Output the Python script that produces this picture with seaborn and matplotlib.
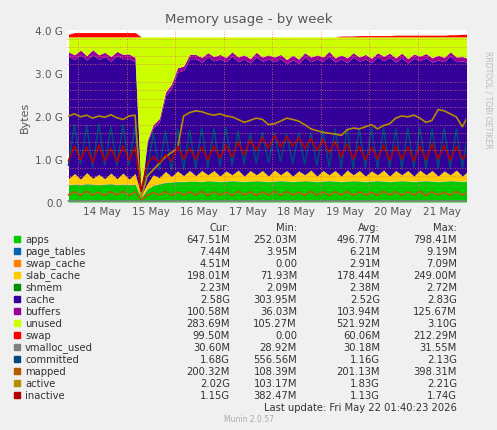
import numpy as np
import matplotlib
matplotlib.use("Agg")
import matplotlib.pyplot as plt
import seaborn as sns

sns.set_theme(style="white")
plt.rcParams['font.family'] = ['DejaVu Sans']

# time in days since 13 May 00:00, step 0.125 day
t0, step, n = 0.8, 0.125, 67
days = t0 + step * np.arange(n)

apps = [.40,.41,.40,.42,.41,.40,.41,.42,.40,.41,.40,.41,
        .10,
        .30,.38,.42,.45,.46,.47,.47,.48,
        .48,.47,.49,.48,.47,.48,.49,.48,.47,.48,.49,.48,.47,.48,.49,.48,.47,.48,.49,.48,.47,.48,.49,.48,
        .47,.48,.49,.48,.47,.48,.49,.48,.47,.48,.49,.48,.47,.48,.49,.48,.47,.48,.49,.48,.47,.48]
slab_cache = [.13,.24,.12,.25,.13,.23,.12,.24,.13,.25,.12,.24,
              .05,
              .12,.24,.13,.25,.12,.24,.13,.24,
              .12,.25,.13,.24,.12,.23,.13,.25,.12,.24,.13,.24,.12,.25,.13,.24,.12,.23,.13,.25,.12,.24,.13,.24,
              .12,.25,.13,.24,.12,.23,.13,.25,.12,.24,.13,.24,.12,.25,.13,.24,.12,.23,.13,.25,.12,.24]
buffers = [.10,.11,.10,.10,.11,.10,.10,.11,.10,.10,.11,.10,
           .03,
           .05,.07,.08,.09,.10,.10,.10,.10,
           .10,.11,.10,.10,.11,.10,.10,.11,.10,.10,.11,.10,.10,.11,.10,.10,.11,.10,.10,.11,.10,.10,.11,.10,
           .10,.11,.10,.10,.11,.10,.10,.11,.10,.10,.11,.10,.10,.11,.10,.10,.11,.10,.10,.11,.10,.10]
cache = [2.85,2.65,2.90,2.62,2.88,2.68,2.84,2.60,2.86,2.66,2.80,2.60,
         .05,
         0.95,1.10,1.30,1.75,2.05,2.30,2.45,2.60,
         2.72,2.52,2.74,2.55,2.72,2.54,2.76,2.52,2.72,2.50,2.74,2.54,2.72,2.52,2.70,2.48,2.70,2.50,2.74,2.52,2.72,2.54,2.76,2.52,
         2.72,2.50,2.74,2.54,2.72,2.52,2.74,2.54,2.76,2.52,2.72,2.50,2.74,2.54,2.72,2.52,2.70,2.54,2.76,2.52,2.68,2.50]
page_tables = 0.007
swap_cache = 0.004
shmem = 0.002
mem_total = 3.84
swap = [.06,.10,.10,.10,.10,.10,.10,.10,.10,.10,.10,.10,
        0,
        0,0,0,0,0,0,0,0,
        0,0,0,0,0,0,0,0,0,0,0,0,0,0,0,0,0,0,0,0,0,0,0,0,
        .02,.02,.02,.03,.03,.03,.03,.03,.03,.04,.04,.04,.04,.04,.04,.04,.04,.04,.05,.05,.06,.06]

active = [2.00,2.05,1.98,2.02,1.95,2.00,1.97,2.03,1.96,1.92,2.00,2.02,
          .10,
          .60,.75,.90,1.05,1.15,1.25,2.00,2.08,
          2.12,2.10,2.05,2.02,2.05,2.00,1.98,1.92,1.85,1.90,1.95,1.92,1.80,1.82,1.88,1.95,1.92,1.88,1.80,1.70,1.66,1.62,1.60,1.58,
          1.55,1.68,1.72,1.70,1.75,1.80,1.70,1.78,1.82,1.95,2.00,1.98,2.02,1.95,1.85,1.90,2.15,2.12,2.05,1.98,1.75,2.02]
inactive = [0.95,1.30,0.98,1.28,0.92,1.32,0.96,1.25,0.94,1.30,0.97,1.27,
            .25,
            0.90,1.05,0.92,1.10,0.95,1.30,1.00,1.25,
            1.00,1.28,0.98,1.30,1.02,1.32,1.05,1.40,1.10,1.45,1.20,1.50,1.25,1.55,1.28,1.52,1.30,1.50,1.25,1.48,1.20,1.45,1.15,1.40,
            1.05,1.35,1.00,1.30,0.98,1.28,1.00,1.32,0.97,1.30,1.00,1.28,0.95,1.30,0.98,1.35,1.00,1.32,0.97,1.30,1.00,1.15]
committed = [0.85,1.80,0.88,1.78,0.82,1.82,0.86,1.75,0.84,1.80,0.87,1.77,
             .20,
             0.70,1.60,0.75,1.65,0.72,1.70,0.75,1.68,
             0.78,1.72,0.80,1.70,0.82,1.74,0.85,1.65,0.88,1.60,0.90,1.62,0.92,1.60,0.95,1.58,0.90,1.60,0.88,1.62,0.85,1.68,0.82,1.70,
             0.80,1.72,0.78,1.70,0.80,1.74,0.78,1.72,0.80,1.70,0.78,1.72,0.80,1.74,0.78,1.70,0.80,1.72,0.78,1.70,0.80,1.68]
mapped = [.16,.24,.15,.25,.16,.23,.15,.24,.16,.25,.15,.24,
          .05,
          .15,.22,.16,.24,.15,.23,.16,.24,
          .16,.25,.15,.24,.16,.23,.15,.25,.16,.24,.15,.24,.16,.25,.15,.24,.16,.23,.15,.25,.16,.24,.15,.24,
          .16,.25,.15,.24,.16,.23,.15,.25,.16,.24,.15,.24,.16,.25,.15,.24,.16,.23,.15,.25,.16,.24]
vmalloc_used = 0.03

names = ["apps","page_tables","swap_cache","slab_cache","shmem","cache","buffers","unused",
         "swap","vmalloc_used","committed","mapped","active","inactive"]
colors = ["#00CC00","#0066B3","#FF8000","#FFCC00","#008F00","#330099","#990099","#CCFF00",
          "#FF0000","#808080","#00487D","#B35A00","#B38F00","#B30000"]
cur = ["647.51M","7.44M","4.51M","198.01M","2.23M","2.58G","100.58M","283.69M","99.50M","30.60M","1.68G","200.32M","2.02G","1.15G"]
mn = ["252.03M","3.95M","0.00","71.93M","2.09M","303.95M","36.03M","105.27M","0.00","28.92M","556.56M","108.39M","103.17M","382.47M"]
avg = ["496.77M","6.21M","2.91M","178.44M","2.38M","2.52G","103.94M","521.92M","60.06M","30.18M","1.16G","201.13M","1.83G","1.13G"]
mx = ["798.41M","9.19M","7.09M","249.00M","2.72M","2.83G","125.67M","3.10G","212.29M","31.55M","2.13G","398.31M","2.21G","1.74G"]

A = lambda v: np.asarray(v, float) * np.ones(n)
layers = [A(apps), A(page_tables), A(swap_cache), A(slab_cache), A(shmem), A(cache), A(buffers)]
base = np.sum(layers, axis=0)
unused = np.clip(mem_total - base, 0, None)
layers += [unused, A(swap)]
layer_colors = [colors[i] for i in [0,1,2,3,4,5,6,7,8]]

fig = plt.figure(figsize=(4.97, 4.31), dpi=100, facecolor="#F0F0F0")
ax = fig.add_axes([67/497, 1-203/431, 399/497, 172/431])
ax.set_facecolor("white")
bottom = np.zeros(n)
for lay, c in zip(layers, layer_colors):
    ax.fill_between(days, bottom, bottom + lay, color=c, lw=0)
    bottom = bottom + lay
for v, c in [(vmalloc_used, colors[9]), (committed, colors[10]), (mapped, colors[11]),
             (active, colors[12]), (inactive, colors[13])]:
    sns.lineplot(x=days, y=A(v), color=c, lw=1.2, ax=ax)

ax.set_xlim(0.77, 9.0)
ax.set_ylim(0, 4.0)
ax.set_yticks([0, 1, 2, 3, 4])
ax.set_yticklabels(["0.0", "1.0 G", "2.0 G", "3.0 G", "4.0 G"], fontsize=7.5, color="#555555")
ax.set_xticks(np.arange(1.5, 9.0, 1.0))
ax.set_xticklabels([f"{d} May" for d in range(14, 22)], fontsize=7.5, color="#555555")
ax.set_xticks(np.arange(1, 9.01, 1.0), minor=True)
ax.set_yticks(np.arange(0, 4.01, 0.2), minor=True)
ax.tick_params(length=0, which="both", pad=3)
ax.grid(True, which="minor", color="#E07070", ls=(0, (1, 2)), lw=0.6)
ax.grid(False, which="major")
ax.set_axisbelow(False)
for s in ax.spines.values():
    s.set_visible(False)
ax.axhline(0, color="#AAAAAA", lw=1)
ax.set_ylabel("Bytes", fontsize=8, color="#555555")

fig.text(0.5, 1-20/431, "Memory usage - by week", ha="center", va="center", fontsize=9.5, color="#555555")
fig.text(488/497, 1-100/431, "RRDTOOL / TOBI OETIKER", rotation=270, ha="center", va="center",
         fontsize=5.5, color="#BBBBBB")

def ty(y):
    return 1 - y/431
fs = 7.2
for xx, h in [(230, "Cur:"), (297, "Min:"), (380, "Avg:"), (457, "Max:")]:
    fig.text(xx/497, ty(228), h, ha="right", va="center", fontsize=fs, color="#333333")
for i, nm in enumerate(names):
    y = 240 + 12*i
    fig.patches.append(plt.Rectangle((14/497, ty(y+3)), 6/497, 6/431, transform=fig.transFigure,
                                     color=colors[i], figure=fig))
    fig.text(25/497, ty(y), nm, ha="left", va="center", fontsize=fs, color="#333333")
    for xx, col in [(230, cur), (297, mn), (380, avg), (457, mx)]:
        fig.text(xx/497, ty(y), col[i], ha="right", va="center", fontsize=fs, color="#333333")
fig.text(457/497, ty(408), "Last update: Fri May 22 01:40:23 2026", ha="right", va="center", fontsize=fs, color="#333333")
fig.text(0.5, ty(420), "Munin 2.0.57", ha="center", va="center", fontsize=5.5, color="#AAAAAA")

fig.savefig("out.png", dpi=100, facecolor=fig.get_facecolor())
